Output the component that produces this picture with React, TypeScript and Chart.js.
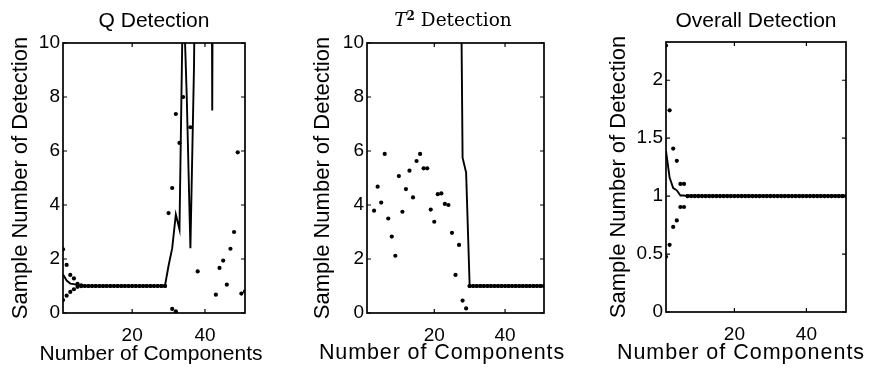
import React, { useEffect, useRef } from "react";
import { Chart, registerables } from "chart.js";

Chart.register(...registerables);

const WIDTH = 872;
const HEIGHT = 370;
const SANS = '"Liberation Sans", Arial, Helvetica, sans-serif';
const SERIF = '"DejaVu Serif", "Liberation Serif", serif';

// Number of retained principal components
const components = [
  1, 2, 3, 4, 5, 6, 7, 8, 9, 10,
  11, 12, 13, 14, 15, 16, 17, 18, 19, 20,
  21, 22, 23, 24, 25, 26, 27, 28, 29, 30,
  31, 32, 33, 34, 35, 36, 37, 38, 39, 40,
  41, 42, 43, 44, 45, 46, 47, 48, 49, 50,
  51,
];

// Q statistic: mean sample number of detection, and mean +/- one std
const qMean = [
  1.43, 1.2, 1.09, 1.07, 1.03, 1.0, 1, 1, 1, 1,
  1, 1, 1, 1, 1, 1, 1, 1, 1, 1,
  1, 1, 1, 1, 1, 1, 1, 1, 1, 1.75,
  2.4, 3.65, 3.1, 12.3, 8.0, 2.4, 9.2, 24, 30, 35,
  48, 7.5, 46, 40, 38, 42, 36, 33, 30, 32,
  28,
];
const qUpper = [
  2.36, 1.78, 1.41, 1.28, 1.08, 1.02, 1, 1, 1, 1,
  1, 1, 1, 1, 1, 1, 1, 1, 1, 1,
  1, 1, 1, 1, 1, 1, 1, 1, 1, 3.7,
  4.63, 7.37, 6.3, null, null, 6.88, null, null, null, null,
  null, null, null, null, null, null, null, null, null, null,
  null,
];
const qLower = [
  0.48, 0.64, 0.78, 0.88, 0.97, 0.99, 1, 1, 1, 1,
  1, 1, 1, 1, 1, 1, 1, 1, 1, 1,
  1, 1, 1, 1, 1, 1, 1, 1, 1, null,
  0.15, 0.06, null, 8.0, null, null, null, 1.54, null, null,
  null, null, 0.68, 1.67, 1.94, 1.05, 2.38, 3.0, 5.95, 0.72,
  0.8,
];

// Hotelling T^2 statistic
const t2Mean = [
  38, 35, 33, 31, 30, 29, 28, 27, 27, 26,
  26, 25, 25, 24, 24, 24, 23, 23, 23, 22,
  22, 22, 22, 21, 21, 21, 21, 5.75, 5.2, 1,
  1, 1, 1, 1, 1, 1, 1, 1, 1, 1,
  1, 1, 1, 1, 1, 1, 1, 1, 1, 1,
  1,
];
const t2Upper = [
  null, null, null, null, null, null, null, null, null, null,
  null, null, null, null, null, null, null, null, null, null,
  null, null, null, null, null, null, null, null, null, 1,
  1, 1, 1, 1, 1, 1, 1, 1, 1, 1,
  1, 1, 1, 1, 1, 1, 1, 1, 1, 1,
  1,
];
const t2Lower = [
  null, null, 3.79, 4.68, 4.09, 5.89, 3.5, 2.83, 2.12, 5.07,
  3.75, 4.59, 5.27, 4.28, 5.63, 5.89, 5.36, 5.36, 3.83, 3.38,
  4.4, 4.43, 4.04, 4.0, 2.97, 1.41, 2.52, 0.46, 0.17, 1,
  1, 1, 1, 1, 1, 1, 1, 1, 1, 1,
  1, 1, 1, 1, 1, 1, 1, 1, 1, 1,
  1,
];

// Combined (overall) detection
const overallMean = [
  1.39, 1.16, 1.07, 1.05, 1.005, 1.005, 1, 1, 1, 1,
  1, 1, 1, 1, 1, 1, 1, 1, 1, 1,
  1, 1, 1, 1, 1, 1, 1, 1, 1, 1,
  1, 1, 1, 1, 1, 1, 1, 1, 1, 1,
  1, 1, 1, 1, 1, 1, 1, 1, 1, 1,
  1,
];
const overallUpper = [
  2.3, 1.74, 1.41, 1.305, 1.105, 1.105, 1, 1, 1, 1,
  1, 1, 1, 1, 1, 1, 1, 1, 1, 1,
  1, 1, 1, 1, 1, 1, 1, 1, 1, 1,
  1, 1, 1, 1, 1, 1, 1, 1, 1, 1,
  1, 1, 1, 1, 1, 1, 1, 1, 1, 1,
  1,
];
const overallLower = [
  0.477, 0.58, 0.734, 0.79, 0.906, 0.906, 1, 1, 1, 1,
  1, 1, 1, 1, 1, 1, 1, 1, 1, 1,
  1, 1, 1, 1, 1, 1, 1, 1, 1, 1,
  1, 1, 1, 1, 1, 1, 1, 1, 1, 1,
  1, 1, 1, 1, 1, 1, 1, 1, 1, 1,
  1,
];

const xTickValues = [20, 40];
const countTicks = [0, 2, 4, 6, 8, 10];
const overallTicks = [0, 0.5, 1, 1.5, 2];

const X_TITLE = "Number of Components";
const Y_TITLE = "Sample Number of Detection";

type Series = (number | null)[];
type Panel = {
  mean: Series;
  upper: Series;
  lower: Series;
  yMax: number;
  yTicks: number[];
  area: { left: number; right: number; top: number; bottom: number };
  yTitleX: number;
};

const panels: Panel[] = [
  {
    mean: qMean, upper: qUpper, lower: qLower, yMax: 10, yTicks: countTicks,
    area: { left: 63, right: 245, top: 43, bottom: 313 }, yTitleX: 21,
  },
  {
    mean: t2Mean, upper: t2Upper, lower: t2Lower, yMax: 10, yTicks: countTicks,
    area: { left: 367, right: 544, top: 43, bottom: 313 }, yTitleX: 323,
  },
  {
    mean: overallMean, upper: overallUpper, lower: overallLower, yMax: 2.33, yTicks: overallTicks,
    area: { left: 666, right: 846, top: 42, bottom: 312 }, yTitleX: 619,
  },
];

const TICK_FONT = 19;
const Y_TITLE_FONT = 22;
const X_AXIS_H = 30;

const toPoints = (ys: Series) =>
  components.map((c, i) => ({ x: c, y: ys[i] }));

// Box around the plotting area with inward tick marks on all four sides
const framePlugin = {
  id: "matlabFrame",
  afterDatasetsDraw(chart: any) {
    const { ctx, chartArea: a, scales } = chart;
    ctx.save();
    ctx.strokeStyle = "#000";
    ctx.lineWidth = 1.7;
    ctx.strokeRect(a.left, a.top, a.right - a.left, a.bottom - a.top);
    ctx.lineWidth = 1.2;
    const len = 4;
    ctx.beginPath();
    scales.x.ticks.forEach((t: any) => {
      const px = scales.x.getPixelForValue(t.value);
      ctx.moveTo(px, a.bottom);
      ctx.lineTo(px, a.bottom - len);
      ctx.moveTo(px, a.top);
      ctx.lineTo(px, a.top + len);
    });
    scales.y.ticks.forEach((t: any) => {
      const py = scales.y.getPixelForValue(t.value);
      ctx.moveTo(a.left, py);
      ctx.lineTo(a.left + len, py);
      ctx.moveTo(a.right, py);
      ctx.lineTo(a.right - len, py);
    });
    ctx.stroke();
    ctx.restore();
  },
};

function makeChart(canvas: HTMLCanvasElement, p: Panel) {
  const padLeft = p.yTitleX - (Y_TITLE_FONT * 1.2) / 2;
  const yWidth = p.area.left - padLeft;
  const dotStyle = {
    showLine: false,
    pointRadius: 2.1,
    pointBackgroundColor: "#000",
    pointBorderWidth: 0,
  };
  return new Chart(canvas, {
    type: "line",
    data: {
      datasets: [
        {
          data: toPoints(p.mean),
          borderColor: "#000",
          borderWidth: 1.9,
          pointRadius: 0,
          tension: 0,
          fill: false,
        },
        { data: toPoints(p.upper), ...dotStyle },
        { data: toPoints(p.lower), ...dotStyle },
      ],
    },
    options: {
      responsive: false,
      animation: false,
      events: [],
      layout: {
        padding: {
          left: padLeft,
          right: WIDTH - p.area.right,
          top: p.area.top,
          bottom: HEIGHT - p.area.bottom - X_AXIS_H,
        },
      },
      plugins: {
        legend: { display: false },
        tooltip: { enabled: false },
        title: { display: false },
      },
      scales: {
        x: {
          type: "linear",
          min: 1,
          max: 51,
          grid: { display: false, drawTicks: false },
          border: { display: false },
          afterBuildTicks: (s: any) => {
            s.ticks = xTickValues.map((v) => ({ value: v }));
          },
          afterFit: (s: any) => {
            s.height = X_AXIS_H;
          },
          ticks: {
            color: "#000",
            padding: 11,
            maxRotation: 0,
            autoSkip: false,
            font: { family: SANS, size: TICK_FONT },
            callback: (v: any) => String(v),
          },
        },
        y: {
          type: "linear",
          min: 0,
          max: p.yMax,
          grid: { display: false, drawTicks: false },
          border: { display: false },
          afterBuildTicks: (s: any) => {
            s.ticks = p.yTicks.map((v) => ({ value: v }));
          },
          afterFit: (s: any) => {
            s.width = yWidth;
          },
          ticks: {
            color: "#000",
            padding: 3,
            autoSkip: false,
            font: { family: SANS, size: TICK_FONT },
            callback: (v: any) => String(v),
          },
          title: {
            display: true,
            text: Y_TITLE,
            color: "#000",
            padding: { top: 0, bottom: 0 },
            font: { family: SANS, size: Y_TITLE_FONT },
          },
        },
      },
    },
    plugins: [framePlugin],
  });
}

function Label(props: {
  x: number;
  baseline: number;
  size: number;
  family: string;
  spacing?: number;
  children: React.ReactNode;
}) {
  const { x, baseline, size, family, spacing = 0, children } = props;
  return (
    <div
      style={{
        position: "absolute",
        left: x,
        top: baseline - 0.846 * size,
        transform: "translateX(-50%)",
        fontSize: size,
        lineHeight: 1,
        fontFamily: family,
        letterSpacing: spacing,
        whiteSpace: "nowrap",
        color: "#000",
      }}
    >
      {children}
    </div>
  );
}

export default function App() {
  const c0 = useRef<HTMLCanvasElement>(null);
  const c1 = useRef<HTMLCanvasElement>(null);
  const c2 = useRef<HTMLCanvasElement>(null);

  useEffect(() => {
    const refs = [c0, c1, c2];
    const charts = refs.map((r, i) => makeChart(r.current as HTMLCanvasElement, panels[i]));
    return () => charts.forEach((c) => c.destroy());
  }, []);

  const canvasStyle: React.CSSProperties = { position: "absolute", left: 0, top: 0 };

  return (
    <div
      style={{
        position: "fixed",
        left: 0,
        top: 0,
        width: WIDTH,
        height: HEIGHT,
        background: "#fff",
        overflow: "hidden",
      }}
    >
      <canvas ref={c0} width={WIDTH} height={HEIGHT} style={canvasStyle} />
      <canvas ref={c1} width={WIDTH} height={HEIGHT} style={canvasStyle} />
      <canvas ref={c2} width={WIDTH} height={HEIGHT} style={canvasStyle} />

      <Label x={154} baseline={27} size={21} family={SANS}>Q Detection</Label>
      <Label x={453} baseline={27} size={18.5} family={SERIF}>
        <span style={{ fontStyle: "italic" }}>T</span>
        <span style={{ fontSize: "0.65em", fontWeight: "bold", position: "relative", top: "-0.55em" }}>2</span>
        {" Detection"}
      </Label>
      <Label x={756} baseline={27} size={21} family={SANS}>Overall Detection</Label>

      <Label x={151} baseline={360} size={21} family={SANS}>{X_TITLE}</Label>
      <Label x={442} baseline={360} size={21.5} spacing={0.9} family={SANS}>{X_TITLE}</Label>
      <Label x={741} baseline={360} size={21.5} spacing={1} family={SANS}>{X_TITLE}</Label>
    </div>
  );
}
